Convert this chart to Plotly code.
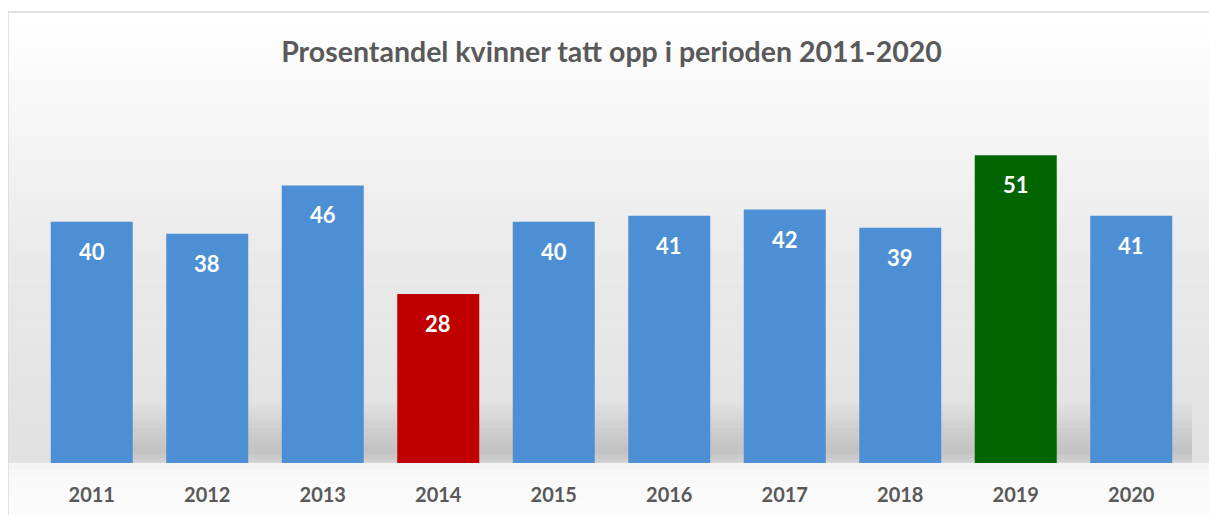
import plotly.graph_objects as go

years = ["2011", "2012", "2013", "2014", "2015", "2016", "2017", "2018", "2019", "2020"]
values = [40, 38, 46, 28, 40, 41, 42, 39, 51, 41]
colors = ["#4C8FD4", "#4C8FD4", "#4C8FD4", "#C00000", "#4C8FD4",
          "#4C8FD4", "#4C8FD4", "#4C8FD4", "#006400", "#4C8FD4"]

title_text = "Prosentandel kvinner tatt opp i perioden 2011-2020"
FONT = "Lato"

# the page body adds an 8px offset; positions below are page pixels minus it
OFF = 8
W, Hfig = 1217, 515
PL, PR, PT, PB = 34 - OFF, 1189 - OFF, 101 - OFF, 463 - OFF
PW, PH = PR - PL, PB - PT

fig = go.Figure()
fig.add_trace(go.Bar(
    x=years, y=values,
    marker=dict(color=colors, line=dict(width=0)),
    hoverinfo="x+y",
))

# data labels placed from the data through the axes (x by category index)
for i, v in enumerate(values):
    fig.add_annotation(x=i, y=v, xref="x", yref="y", text=str(v), showarrow=False,
                       yanchor="top", yshift=-14,
                       font=dict(family=FONT, size=22, color="white", weight="bold"))

def lerp(c1, c2, t):
    return tuple(round(a + (b - a) * t) for a, b in zip(c1, c2))

def hexc(c):
    return "#%02x%02x%02x" % c

def px(xpage):
    return (xpage - OFF - PL) / PW

def py(ypage):
    return (PB - (ypage - OFF)) / PH

shapes = []

def bands(stops, ytop, ybot, n, x0, x1):
    for i in range(n):
        y0 = ytop + (ybot - ytop) * i / n
        y1 = ytop + (ybot - ytop) * (i + 1) / n
        ym = (y0 + y1) / 2
        c = stops[-1][1]
        for j in range(len(stops) - 1):
            if stops[j][0] <= ym <= stops[j + 1][0]:
                t = (ym - stops[j][0]) / (stops[j + 1][0] - stops[j][0])
                c = lerp(stops[j][1], stops[j + 1][1], t)
                break
        shapes.append(dict(type="rect", xref="paper", yref="paper",
                           x0=x0, x1=x1, y0=py(y1), y1=py(y0) + 0.001,
                           fillcolor=hexc(c), line=dict(width=0), layer="below"))

XL, XR = px(8), px(1213)
bands([(12, (255, 255, 255)), (100, (248, 248, 248)), (250, (234, 234, 234)),
       (400, (227, 227, 227)), (463, (225, 225, 225))], 12, 463, 40, XL, XR)
bands([(400, (227, 227, 227)), (430, (206, 206, 206)), (452, (194, 194, 194)),
       (463, (210, 210, 210))], 400, 463, 16, px(130), px(1192))
bands([(463, (242, 242, 242)), (480, (249, 249, 249)), (520, (252, 252, 252))],
      463, 523, 8, XL, XR)

# chart border
shapes.append(dict(type="rect", xref="paper", yref="paper",
                   x0=XL, x1=XR, y0=py(540), y1=py(12),
                   fillcolor="rgba(0,0,0,0)", line=dict(color="#D9D9D9", width=1.5),
                   layer="above"))

fig.update_layout(
    width=W, height=Hfig,
    margin=dict(l=PL, r=W - PR, t=PT, b=Hfig - PB),
    paper_bgcolor="white",
    plot_bgcolor="rgba(0,0,0,0)",
    title=dict(text=title_text, x=0.5, xanchor="center", xref="paper",
               y=1 - (52 - OFF) / Hfig, yanchor="middle",
               font=dict(family=FONT, size=28.5, color="#595959", weight="bold")),
    bargap=0.29,
    showlegend=False,
    shapes=shapes,
    xaxis=dict(type="category", range=[-0.5, len(years) - 0.5],
               showgrid=False, showline=False, zeroline=False,
               ticks="", ticklabelstandoff=18,
               tickfont=dict(family=FONT, size=20, color="#595959", weight="bold")),
    yaxis=dict(range=[0, 60], visible=False, showgrid=False, zeroline=False),
)

fig.write_html("out.html")
